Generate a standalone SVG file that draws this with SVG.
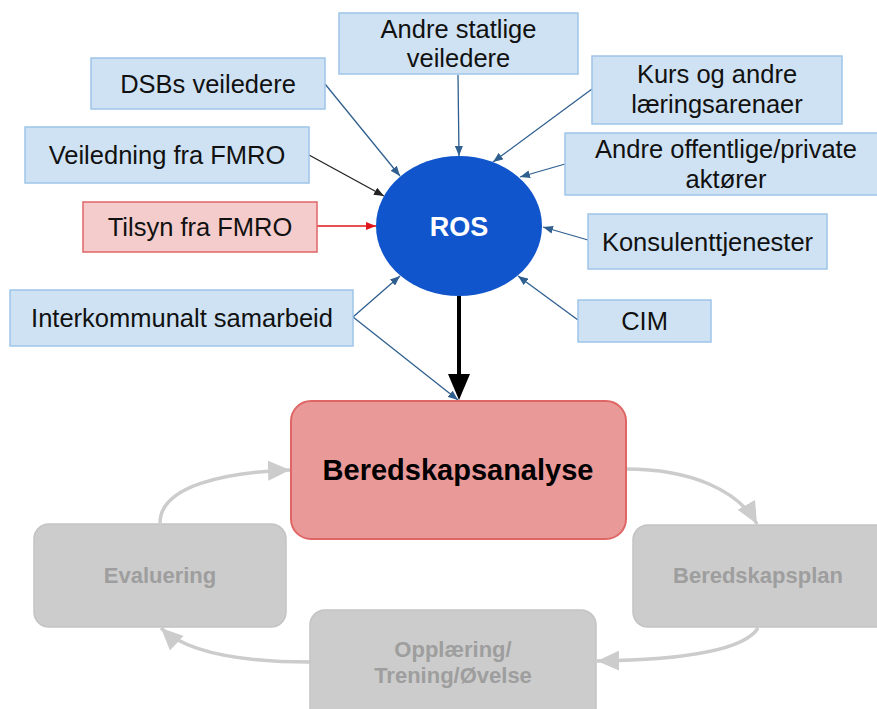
<svg xmlns="http://www.w3.org/2000/svg" width="877" height="709" viewBox="0 0 877 709">
  <defs>
    <style>
      .src { fill: #cfe2f3; stroke: #9fc5e8; stroke-width: 1.5; }
      .src-red { fill: #f4cccc; stroke: #e06666; stroke-width: 1.5; }
      .lbl { font-family: "Liberation Sans", Arial, sans-serif; font-size: 25.5px; fill: #111; text-anchor: middle; }
      .ros { font-family: "Liberation Sans", Arial, sans-serif; font-size: 27px; font-weight: bold; fill: #fff; text-anchor: middle; }
      .main { font-family: "Liberation Sans", Arial, sans-serif; font-size: 29px; font-weight: bold; fill: #000; text-anchor: middle; }
      .step { fill: #cccccc; stroke: #c3c3c3; stroke-width: 1.5; }
      .step-lbl { font-family: "Liberation Sans", Arial, sans-serif; font-size: 22px; font-weight: bold; fill: #9e9e9e; text-anchor: middle; }
      .link { fill: none; stroke: #2f5f8f; stroke-width: 1.3; marker-end: url(#head-blue); }
      .link-black { fill: none; stroke: #222; stroke-width: 1.3; marker-end: url(#head-black); }
      .link-red { fill: none; stroke: #e0161b; stroke-width: 1.3; marker-end: url(#head-red); }
      .cycle { fill: none; stroke: #cccccc; stroke-width: 3.5; marker-end: url(#head-gray); }
    </style>
    <marker id="head-blue" markerUnits="userSpaceOnUse" viewBox="0 0 10 8" refX="10" refY="4" markerWidth="10" markerHeight="8" orient="auto">
      <path d="M0,0 L10,4 L0,8 Z" fill="#2f5f8f"/>
    </marker>
    <marker id="head-black" markerUnits="userSpaceOnUse" viewBox="0 0 10 8" refX="10" refY="4" markerWidth="10" markerHeight="8" orient="auto">
      <path d="M0,0 L10,4 L0,8 Z" fill="#222"/>
    </marker>
    <marker id="head-red" markerUnits="userSpaceOnUse" viewBox="0 0 10 8" refX="10" refY="4" markerWidth="10" markerHeight="8" orient="auto">
      <path d="M0,0 L10,4 L0,8 Z" fill="#e0161b"/>
    </marker>
    <marker id="head-gray" markerUnits="userSpaceOnUse" viewBox="0 0 22 20" refX="22" refY="10" markerWidth="22" markerHeight="20" orient="auto">
      <path d="M0,0 L22,10 L0,20 Z" fill="#cccccc"/>
    </marker>
  </defs>

  <rect width="877" height="709" fill="#ffffff"/>

  <!-- connectors -->
  <g id="connectors">
    <line class="link" x1="458" y1="75" x2="459" y2="156"/>
    <line class="link" x1="325" y1="84" x2="400" y2="176"/>
    <line class="link-black" x1="309" y1="155" x2="384" y2="196"/>
    <line class="link" x1="592" y1="89" x2="493" y2="162"/>
    <line class="link" x1="565" y1="164" x2="520" y2="177"/>
    <line class="link-red" x1="317" y1="226" x2="376" y2="226"/>
    <line class="link" x1="588" y1="240" x2="543" y2="227"/>
    <line class="link" x1="578" y1="320" x2="518" y2="276"/>
    <line class="link" x1="353" y1="317" x2="400" y2="276"/>
    <line class="link" x1="353" y1="317" x2="458" y2="400"/>
    <!-- ROS to Beredskapsanalyse -->
    <line x1="459" y1="296" x2="459" y2="375" stroke="#000" stroke-width="4"/>
    <path d="M448,374 L470,374 L459,400 Z" fill="#000"/>
    <!-- planning cycle -->
    <path class="cycle" d="M160,523 C160,486 225,472 290,470"/>
    <path class="cycle" d="M626,469 C690,469 738,490 757,524"/>
    <path class="cycle" d="M758,628 C742,654 665,660 597,661"/>
    <path class="cycle" d="M310,662 C240,662 186,652 161,628"/>
  </g>

  <g id="andre-statlige">
    <rect class="src" x="339" y="13" width="239" height="61"/>
    <text class="lbl" x="458.5" y="38">Andre statlige</text>
    <text class="lbl" x="458.5" y="67">veiledere</text>
  </g>

  <g id="dsb">
    <rect class="src" x="91" y="58" width="234" height="51"/>
    <text class="lbl" x="208" y="93">DSBs veiledere</text>
  </g>

  <g id="veiledning-fmro">
    <rect class="src" x="25" y="127" width="284" height="56"/>
    <text class="lbl" x="167" y="164">Veiledning fra FMRO</text>
  </g>

  <g id="tilsyn-fmro">
    <rect class="src-red" x="83" y="202" width="234" height="50"/>
    <text class="lbl" x="200" y="236">Tilsyn fra FMRO</text>
  </g>

  <g id="interkommunalt">
    <rect class="src" x="10" y="290" width="343" height="56"/>
    <text class="lbl" x="182" y="327">Interkommunalt samarbeid</text>
  </g>

  <g id="kurs">
    <rect class="src" x="592" y="56" width="250" height="68"/>
    <text class="lbl" x="717" y="83">Kurs og andre</text>
    <text class="lbl" x="717" y="113">læringsarenaer</text>
  </g>

  <g id="andre-offentlige">
    <rect class="src" x="565" y="133" width="320" height="62"/>
    <text class="lbl" x="726" y="158">Andre offentlige/private</text>
    <text class="lbl" x="726" y="188">aktører</text>
  </g>

  <g id="konsulent">
    <rect class="src" x="588" y="214" width="239" height="55"/>
    <text class="lbl" x="707.5" y="251">Konsulenttjenester</text>
  </g>

  <g id="cim">
    <rect class="src" x="578" y="300" width="133" height="42"/>
    <text class="lbl" x="644.5" y="330">CIM</text>
  </g>

  <g id="ros">
    <ellipse cx="459" cy="226" rx="83" ry="70" fill="#1155cc"/>
    <text class="ros" x="459" y="236">ROS</text>
  </g>

  <g id="beredskapsanalyse">
    <rect x="291" y="401" width="335" height="138" rx="20" ry="20" fill="#ea9999" stroke="#e06666" stroke-width="2"/>
    <text class="main" x="458" y="480">Beredskapsanalyse</text>
  </g>

  <g id="beredskapsplan">
    <rect class="step" x="633" y="525" width="260" height="102" rx="15" ry="15"/>
    <text class="step-lbl" x="758" y="583">Beredskapsplan</text>
  </g>

  <g id="opplaering">
    <rect class="step" x="310" y="610" width="286" height="120" rx="15" ry="15"/>
    <text class="step-lbl" x="453" y="657">Opplæring/</text>
    <text class="step-lbl" x="453" y="683">Trening/Øvelse</text>
  </g>

  <g id="evaluering">
    <rect class="step" x="34" y="524" width="252" height="103" rx="15" ry="15"/>
    <text class="step-lbl" x="160" y="583">Evaluering</text>
  </g>
</svg>
